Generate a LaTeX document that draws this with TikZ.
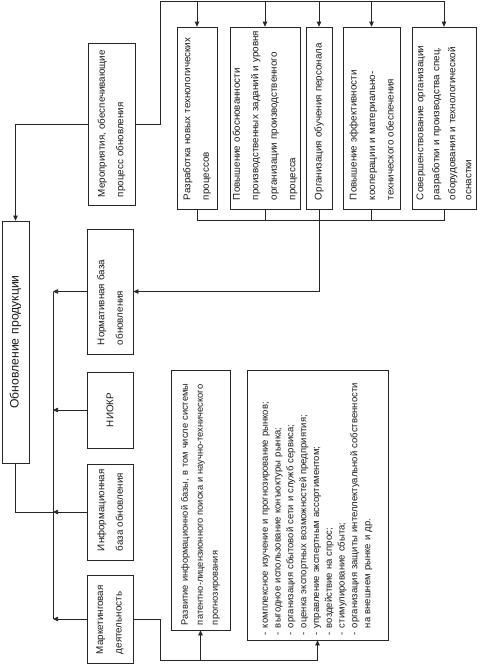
\documentclass[tikz,border=0pt]{standalone}
\usepackage{fontspec}
\setmainfont{Liberation Sans}
\usetikzlibrary{arrows.meta,calc}
\begin{document}
\begin{tikzpicture}[x=1pt,y=-1pt,
  box/.style={draw=black!85, line width=0.7pt, rotate=90, inner ysep=0pt,
    align=left, text=black!90, font=\fontsize{9.8}{18.5}\selectfont},
  line/.style={draw=black!85, line width=0.7pt},
  arr/.style={line, -{Triangle[length=5pt,width=4.5pt]}}
]
\useasboundingbox (0,0) rectangle (488,664);

% main
\node[box, minimum width=242pt, minimum height=27pt, text width=230pt, inner xsep=6pt,
  align=center, font=\fontsize{12.2}{14}\selectfont] (main) at (15.5,342) {Обновление продукции};

% measures box
\node[box, minimum width=162pt, minimum height=47pt, text width=146pt, inner xsep=8pt]
  (mer) at (111.5,124) {\mbox{Мероприятия, обеспечивающие}\\\mbox{процесс обновления}};

% top row
\node[box, minimum width=182pt, minimum height=40pt, text width=164pt, inner xsep=9pt]
  (b1) at (197,118) {\mbox{Разработка новых технологических}\\\mbox{процессов}};
\node[box, minimum width=182pt, minimum height=70pt, text width=164pt, inner xsep=9pt]
  (b2) at (265,118) {\mbox{Повышение обоснованности}\\\mbox{производственных заданий и уровня}\\\mbox{организации производственного}\\\mbox{процесса}};
\node[box, minimum width=182pt, minimum height=26pt, text width=164pt, inner xsep=9pt]
  (b3) at (319,118) {\mbox{Организация обучения персонала}};
\node[box, minimum width=182pt, minimum height=57pt, text width=164pt, inner xsep=9pt]
  (b4) at (371.5,118) {\mbox{Повышение эффективности}\\\mbox{кооперации и материально-}\\\mbox{технического обеспечения}};
\node[box, minimum width=182pt, minimum height=64pt, text width=164pt, inner xsep=9pt,
  font=\fontsize{9.8}{16}\selectfont]
  (b5) at (444,118) {\mbox{Совершенствование организации}\\\mbox{разработки и производства спец.}\\\mbox{оборудования и технологической}\\\mbox{оснастки}};

% left column
\node[box, minimum width=125pt, minimum height=46pt, text width=107pt, inner xsep=9pt]
  (norm) at (110,291.5) {\mbox{Нормативная база}\\\mbox{обновления}};
\node[box, minimum width=76pt, minimum height=46pt, text width=60pt, inner xsep=8pt, align=center]
  (niokr) at (110,410) {НИОКР};
\node[box, minimum width=96pt, minimum height=46pt, text width=78pt, inner xsep=9pt]
  (inf) at (110,512) {\mbox{Информационная}\\\mbox{база обновления}};
\node[box, minimum width=88pt, minimum height=46pt, text width=70pt, inner xsep=9pt]
  (mark) at (110,619) {\mbox{Маркетинговая}\\\mbox{деятельность}};

% lower right
\node[box, minimum width=260pt, minimum height=59pt, text width=250pt, inner xsep=5pt,
  font=\fontsize{9.3}{15}\selectfont]
  (razv) at (200.5,500) {\mbox{Развитие информационной базы, в том числе системы}\\\mbox{патентно-лицензионного поиска и научно-технического}\\\mbox{прогнозирования}};
\node[box, minimum width=270pt, minimum height=141pt, text width=260pt, inner xsep=5pt,
  font=\fontsize{9.5}{12.8}\selectfont]
  (list) at (317.5,505) {\mbox{\makebox[7pt][l]{-}комплексное изучение и прогнозирование рынков;}\\\mbox{\makebox[7pt][l]{-}выгодное использование конъюктуры рынка;}\\\mbox{\makebox[7pt][l]{-}организация сбытовой сети и служб сервиса;}\\\mbox{\makebox[7pt][l]{-}оценка экспортных возможностей предприятия;}\\\mbox{\makebox[7pt][l]{-}управление экспертным ассортиментом;}\\\mbox{\makebox[7pt][l]{-}воздействие на спрос;}\\\mbox{\makebox[7pt][l]{-}стимулирование сбыта;}\\\mbox{\makebox[7pt][l]{-}организация защиты интеллектуальной собственности}\\\mbox{\hspace*{7pt}на внешнем рынке и др.}};

% connectors
\coordinate (tb) at (160,1);
\coordinate (bb) at (0,220);
\coordinate (lb) at (53,0);
\coordinate (mb) at (160,660);

\draw[arr] (mer.north) -| (main.east);
\draw[line] (mer.south) -| (tb) -- (tb -| b5.east);
\foreach \b in {b1,b2,b3,b4,b5} \draw[arr] (tb -| \b.east) -- (\b.east);

\draw[line] (b1.west) -- (b1.west |- bb) -- (b5.west |- bb) -- (b5.west);
\draw[line] (b2.west) -- (b2.west |- bb);
\draw[line] (b4.west) -- (b4.west |- bb);
\draw[arr] (b3.west) |- (norm.south);

\draw[line] (norm.north -| lb) -- (mark.north -| lb);
\foreach \b in {norm,niokr,inf,mark} \draw[arr] (\b.north) -- (\b.north -| lb);
\draw[line] (main.west) |- (inf.north -| lb);

\draw[line] (mark.south) -| (mb) -- (mb -| list.west);
\draw[arr] (mb -| razv.west) -- (razv.west);
\draw[arr] (mb -| list.west) -- (list.west);
\end{tikzpicture}
\end{document}
